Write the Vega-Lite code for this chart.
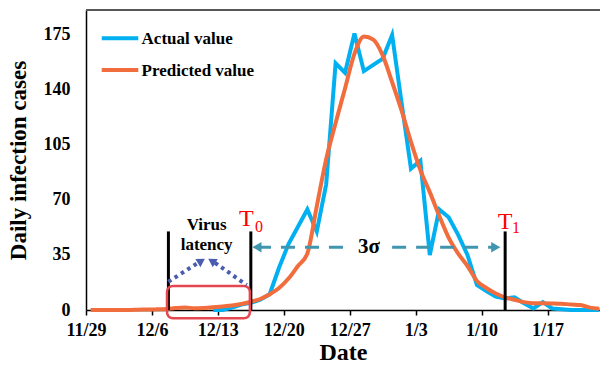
{
  "$schema": "https://vega.github.io/schema/vega-lite/v6.json",
  "width": 514,
  "height": 300,
  "autosize": "none",
  "padding": {"left": 86, "top": 10, "right": 0, "bottom": 55},
  "background": "white",
  "config": {
    "view": {"stroke": null},
    "font": "Liberation Serif",
    "axis": {"grid": false}
  },
  "data": {
    "values": [
      {"day": 0, "Actual value": null, "Predicted value": 0},
      {"day": 1, "Actual value": null, "Predicted value": 0},
      {"day": 2, "Actual value": null, "Predicted value": 0},
      {"day": 3, "Actual value": null, "Predicted value": 0},
      {"day": 4, "Actual value": null, "Predicted value": 0},
      {"day": 5, "Actual value": null, "Predicted value": 0.2},
      {"day": 6, "Actual value": null, "Predicted value": 0.3},
      {"day": 7, "Actual value": null, "Predicted value": 0.4},
      {"day": 8, "Actual value": null, "Predicted value": 0.6},
      {"day": 9, "Actual value": null, "Predicted value": 1.2},
      {"day": 10, "Actual value": null, "Predicted value": 1.6},
      {"day": 11, "Actual value": null, "Predicted value": 1.1},
      {"day": 12, "Actual value": null, "Predicted value": 1.3},
      {"day": 13, "Actual value": 0, "Predicted value": 1.7},
      {"day": 14, "Actual value": 0, "Predicted value": 2.2},
      {"day": 15, "Actual value": 1.5, "Predicted value": 2.8},
      {"day": 16, "Actual value": 3.5, "Predicted value": 3.8},
      {"day": 17, "Actual value": 4.5, "Predicted value": 5.3},
      {"day": 18, "Actual value": 6.5, "Predicted value": 7},
      {"day": 19, "Actual value": 10, "Predicted value": 10},
      {"day": 20, "Actual value": 27, "Predicted value": 14},
      {"day": 21, "Actual value": 42, "Predicted value": 20},
      {"day": 22, "Actual value": 53, "Predicted value": 28},
      {"day": 23, "Actual value": 64, "Predicted value": 36},
      {"day": 24, "Actual value": 50, "Predicted value": 66},
      {"day": 25, "Actual value": 80, "Predicted value": 96},
      {"day": 26, "Actual value": 157, "Predicted value": 119},
      {"day": 27, "Actual value": 151, "Predicted value": 141},
      {"day": 28, "Actual value": 176, "Predicted value": 163},
      {"day": 29, "Actual value": 152, "Predicted value": 174},
      {"day": 30, "Actual value": 156, "Predicted value": 172},
      {"day": 31, "Actual value": 160, "Predicted value": 162},
      {"day": 32, "Actual value": 175, "Predicted value": 145},
      {"day": 33, "Actual value": 132, "Predicted value": 127},
      {"day": 34, "Actual value": 90, "Predicted value": 107},
      {"day": 35, "Actual value": 95, "Predicted value": 89},
      {"day": 36, "Actual value": 35, "Predicted value": 75},
      {"day": 37, "Actual value": 64, "Predicted value": 60},
      {"day": 38, "Actual value": 59, "Predicted value": 46},
      {"day": 39, "Actual value": 48, "Predicted value": 36},
      {"day": 40, "Actual value": 35, "Predicted value": 28},
      {"day": 41, "Actual value": 16, "Predicted value": 18.5},
      {"day": 42, "Actual value": 12, "Predicted value": 14},
      {"day": 43, "Actual value": 8.5, "Predicted value": 10.5},
      {"day": 44, "Actual value": 7.4, "Predicted value": 8},
      {"day": 45, "Actual value": 8, "Predicted value": 6.5},
      {"day": 46, "Actual value": 4.3, "Predicted value": 5},
      {"day": 47, "Actual value": 1, "Predicted value": 4.3},
      {"day": 48, "Actual value": 5, "Predicted value": 4.3},
      {"day": 49, "Actual value": 1, "Predicted value": 4.2},
      {"day": 50, "Actual value": 0.5, "Predicted value": 4},
      {"day": 51, "Actual value": 0, "Predicted value": 3.5},
      {"day": 52, "Actual value": 0, "Predicted value": 3.2},
      {"day": 53, "Actual value": 0, "Predicted value": 1.5},
      {"day": 54, "Actual value": 0, "Predicted value": 0.8}
    ]
  },
  "layer": [
    {
      "mark": {"type": "rule", "color": "#595959", "strokeWidth": 1.5},
      "encoding": {
        "y": {"datum": 190.9, "type": "quantitative", "scale": {"domain": [0, 190.9], "nice": false}}
      }
    },
    {
      "mark": {"type": "line", "strokeWidth": 4, "color": "#00b0f0"},
      "encoding": {
        "x": {
          "field": "day", "type": "quantitative", "title": "Date",
          "scale": {"domain": [-0.5, 54.07], "nice": false, "zero": false},
          "axis": {
            "values": [-0.5, 6.5, 13.5, 20.5, 27.5, 34.5, 41.5, 48.5],
            "labelExpr": "['11/29','12/6','12/13','12/20','12/27','1/3','1/10','1/17'][round((datum.value+0.5)/7)]",
            "domainColor": "black", "domainWidth": 1.5,
            "tickColor": "black", "tickWidth": 1.5, "tickSize": 5,
            "labelFont": "Liberation Serif", "labelFontSize": 18, "labelFontWeight": "bold", "labelColor": "black",
            "labelPadding": 6, "labelFlush": false, "labelOverlap": false,
            "titleFont": "Liberation Serif", "titleFontSize": 24, "titleFontWeight": "bold", "titleColor": "black",
            "titlePadding": 1
          }
        },
        "y": {
          "field": "Actual value", "type": "quantitative", "title": "Daily infection cases",
          "scale": {"domain": [0, 190.9], "nice": false},
          "axis": {
            "values": [0, 35, 70, 105, 140, 175],
            "ticks": false,
            "domainColor": "black", "domainWidth": 1.5,
            "labelFont": "Liberation Serif", "labelFontSize": 18, "labelFontWeight": "bold", "labelColor": "black",
            "labelPadding": 16,
            "titleFont": "Liberation Serif", "titleFontSize": 23, "titleFontWeight": "bold", "titleColor": "black",
            "titlePadding": 13
          }
        }
      }
    },
    {
      "mark": {"type": "line", "strokeWidth": 4, "interpolate": "monotone", "color": "#f26d3d"},
      "encoding": {
        "x": {"field": "day", "type": "quantitative", "title": "Date"},
        "y": {"field": "Predicted value", "type": "quantitative", "title": "Daily infection cases"}
      }
    },
    {
      "data": {"values": [
        {"series": "Actual value", "day": 1.17, "day2": 5.05, "value": 172.9},
        {"series": "Predicted value", "day": 1.17, "day2": 5.05, "value": 152.7}
      ]},
      "mark": {"type": "rule", "strokeWidth": 4},
      "encoding": {
        "x": {"field": "day", "type": "quantitative", "title": "Date"},
        "x2": {"field": "day2"},
        "y": {"field": "value", "type": "quantitative", "title": "Daily infection cases"},
        "color": {
          "field": "series", "type": "nominal", "legend": null,
          "scale": {"domain": ["Actual value", "Predicted value"], "range": ["#00b0f0", "#f26d3d"]}
        }
      }
    },
    {
      "data": {"values": [
        {"series": "Actual value", "day": 5.4, "value": 172.4},
        {"series": "Predicted value", "day": 5.4, "value": 152.2}
      ]},
      "mark": {"type": "text", "font": "Liberation Serif", "fontSize": 17, "fontWeight": "bold", "color": "black", "baseline": "middle", "align": "left"},
      "encoding": {
        "x": {"field": "day", "type": "quantitative", "title": "Date"},
        "y": {"field": "value", "type": "quantitative", "title": "Daily infection cases"},
        "text": {"field": "series"}
      }
    },
    {
      "data": {"values": [{"day": 8.25}, {"day": 17}, {"day": 44}]},
      "mark": {"type": "rule", "color": "black", "strokeWidth": 3},
      "encoding": {
        "x": {"field": "day", "type": "quantitative", "title": "Date"},
        "y": {"datum": 0, "type": "quantitative"},
        "y2": {"datum": 50}
      }
    },
    {
      "data": {"values": [{"day": 8.1, "day2": 16.9, "value": -5.3, "value2": 15.3}]},
      "mark": {"type": "rect", "fill": null, "fillOpacity": 0, "stroke": "#e5464f", "strokeWidth": 2.5, "cornerRadius": 6},
      "encoding": {
        "x": {"field": "day", "type": "quantitative", "title": "Date"},
        "x2": {"field": "day2"},
        "y": {"field": "value", "type": "quantitative", "title": "Daily infection cases"},
        "y2": {"field": "value2"}
      }
    },
    {
      "data": {"values": [
        {"g": "L", "day": 8.24, "value": 18},
        {"g": "L", "day": 11.4, "value": 30},
        {"g": "R", "day": 16.56, "value": 15.9},
        {"g": "R", "day": 13.2, "value": 30}
      ]},
      "mark": {"type": "line", "color": "#4a5cb0", "strokeWidth": 4, "strokeDash": [3.5, 4]},
      "encoding": {
        "x": {"field": "day", "type": "quantitative", "title": "Date"},
        "y": {"field": "value", "type": "quantitative", "title": "Daily infection cases"},
        "detail": {"field": "g"}
      }
    },
    {
      "data": {"values": [{"day": 11.75, "value": 31.2}]},
      "mark": {"type": "point", "shape": "triangle-up", "filled": true, "color": "#4a5cb0", "size": 90, "angle": 58, "opacity": 1},
      "encoding": {
        "x": {"field": "day", "type": "quantitative", "title": "Date"},
        "y": {"field": "value", "type": "quantitative", "title": "Daily infection cases"}
      }
    },
    {
      "data": {"values": [{"day": 12.85, "value": 31.2}]},
      "mark": {"type": "point", "shape": "triangle-up", "filled": true, "color": "#4a5cb0", "size": 90, "angle": -58, "opacity": 1},
      "encoding": {
        "x": {"field": "day", "type": "quantitative", "title": "Date"},
        "y": {"field": "value", "type": "quantitative", "title": "Daily infection cases"}
      }
    },
    {
      "data": {"values": [
        {"g": "L", "day": 17.65, "value": 40},
        {"g": "L", "day": 27.5, "value": 40},
        {"g": "R", "day": 32.0, "value": 40},
        {"g": "R", "day": 43.0, "value": 40}
      ]},
      "mark": {"type": "line", "color": "#3f96ae", "strokeWidth": 3, "strokeDash": [14, 10]},
      "encoding": {
        "x": {"field": "day", "type": "quantitative", "title": "Date"},
        "y": {"field": "value", "type": "quantitative", "title": "Daily infection cases"},
        "detail": {"field": "g"}
      }
    },
    {
      "data": {"values": [{"day": 17.65, "value": 40}]},
      "mark": {"type": "point", "shape": "triangle-left", "filled": true, "color": "#3f96ae", "size": 110, "opacity": 1},
      "encoding": {
        "x": {"field": "day", "type": "quantitative", "title": "Date"},
        "y": {"field": "value", "type": "quantitative", "title": "Daily infection cases"}
      }
    },
    {
      "data": {"values": [{"day": 43.0, "value": 40}]},
      "mark": {"type": "point", "shape": "triangle-right", "filled": true, "color": "#3f96ae", "size": 110, "opacity": 1},
      "encoding": {
        "x": {"field": "day", "type": "quantitative", "title": "Date"},
        "y": {"field": "value", "type": "quantitative", "title": "Daily infection cases"}
      }
    },
    {
      "data": {"values": [
        {"day": 12.31, "value": 54.1, "label": "Virus"},
        {"day": 12.31, "value": 41.4, "label": "latency"}
      ]},
      "mark": {"type": "text", "font": "Liberation Serif", "fontSize": 17, "fontWeight": "bold", "color": "black", "baseline": "middle", "align": "center"},
      "encoding": {
        "x": {"field": "day", "type": "quantitative", "title": "Date"},
        "y": {"field": "value", "type": "quantitative", "title": "Daily infection cases"},
        "text": {"field": "label"}
      }
    },
    {
      "data": {"values": [{"day": 29.54, "value": 40.3, "label": "3σ"}]},
      "mark": {"type": "text", "font": "Liberation Serif", "fontSize": 21, "fontWeight": "bold", "color": "black", "baseline": "middle", "align": "center"},
      "encoding": {
        "x": {"field": "day", "type": "quantitative", "title": "Date"},
        "y": {"field": "value", "type": "quantitative", "title": "Daily infection cases"},
        "text": {"field": "label"}
      }
    },
    {
      "data": {"values": [
        {"day": 16.53, "value": 53.4, "label": "T"},
        {"day": 43.98, "value": 51.5, "label": "T"}
      ]},
      "mark": {"type": "text", "font": "Liberation Serif", "fontSize": 24, "color": "#ff0000", "baseline": "alphabetic", "align": "center"},
      "encoding": {
        "x": {"field": "day", "type": "quantitative", "title": "Date"},
        "y": {"field": "value", "type": "quantitative", "title": "Daily infection cases"},
        "text": {"field": "label"}
      }
    },
    {
      "data": {"values": [
        {"day": 17.87, "value": 49.6, "label": "0"},
        {"day": 45.15, "value": 48.7, "label": "1"}
      ]},
      "mark": {"type": "text", "font": "Liberation Serif", "fontSize": 16, "color": "#ff0000", "baseline": "alphabetic", "align": "center"},
      "encoding": {
        "x": {"field": "day", "type": "quantitative", "title": "Date"},
        "y": {"field": "value", "type": "quantitative", "title": "Daily infection cases"},
        "text": {"field": "label"}
      }
    }
  ]
}
